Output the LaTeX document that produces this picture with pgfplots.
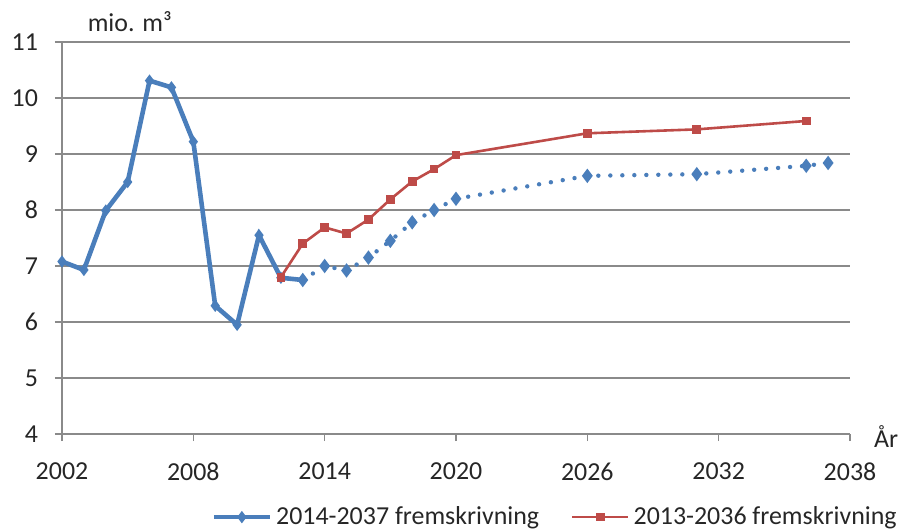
\documentclass[border=0pt]{standalone}
\usepackage{fontspec}
\setmainfont{Carlito}
\usepackage{pgfplots}
\pgfplotsset{compat=1.18}
\definecolor{xlblue}{HTML}{4A7EBB}
\definecolor{xlred}{HTML}{BE4B48}
\definecolor{gridgray}{HTML}{8A8A8A}

\begin{document}
\begin{tikzpicture}
\begin{axis}[
  scale only axis, width=394bp, height=196bp,
  xmin=2002, xmax=2038, ymin=4, ymax=11,
  xtick={2002,2008,...,2038}, ytick={4,5,...,11},
  axis lines*=left,
  axis line style={gridgray, line width=0.75bp},
  ymajorgrids, major grid style={gridgray, line width=0.75bp},
  tick style={gridgray, line width=0.75bp},
  tick align=outside, major tick length=3.5bp,
  x tick label style={/pgf/number format/1000 sep={}, yshift=-7.5bp},
  y tick label style={xshift=-5bp},
  /pgf/number format/assume math mode=true,
  tick label style={font=\fontsize{13}{15}\selectfont, text=black!85},
  clip=false,
  legend columns=2,
  legend style={at={(0.627,-0.212)}, anchor=center, draw=none, fill=none,
    font=\fontsize{13}{15}\selectfont, text=black!85,
    /tikz/every even column/.append style={column sep=14bp}},
  legend image code/.code={
    \draw[mark repeat=2,mark phase=2] plot coordinates {(0bp,0bp) (14bp,0bp) (28bp,0bp)};},
]
\addplot[xlblue, line width=2.3bp, mark=diamond*, mark size=1.2bp] coordinates {
  (2002,7.08) (2003,6.93) (2004,7.99) (2005,8.50) (2006,10.31) (2007,10.19)
  (2008,9.22) (2009,6.29) (2010,5.95) (2011,7.55) (2012,6.79) (2013,6.75)
};
\addlegendentry{2014-2037 fremskrivning}
\addplot[xlred, line width=1.3bp, mark=square*, mark size=1.5bp] coordinates {
  (2012,6.80) (2013,7.40) (2014,7.69) (2015,7.58) (2016,7.83) (2017,8.19)
  (2018,8.51) (2019,8.73) (2020,8.98) (2026,9.37) (2031,9.44) (2036,9.59)
};
\addlegendentry{2013-2036 fremskrivning}
\addplot[xlblue, line width=2.2bp, line cap=round, dash pattern=on 0pt off 6bp,
  mark=diamond*, mark size=1.8bp, mark options={solid}, forget plot] coordinates {
  (2013,6.75) (2014,7.00) (2015,6.92) (2016,7.15) (2017,7.45) (2018,7.78)
  (2019,8.00) (2020,8.20) (2026,8.61) (2031,8.64) (2036,8.79) (2037,8.84)
};
\node[font=\fontsize{13}{15}\selectfont, text=black!85] at (axis description cs:0.086,1.051) {mio. m³};
\node[font=\fontsize{13}{15}\selectfont, text=black!85] at (axis description cs:1.046,-0.006) {År};
\end{axis}
\pgfresetboundingbox
\path[use as bounding box] (-31bp,-47.5bp) rectangle (419.5bp,217bp);
\end{tikzpicture}
\end{document}
